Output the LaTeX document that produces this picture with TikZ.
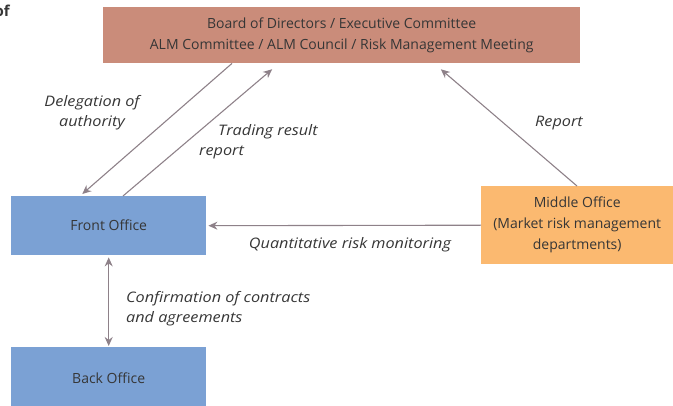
\documentclass[tikz,border=0pt]{standalone}
\usepackage{fontspec}
\setmainfont{Open Sans}
\newfontfamily\lblfont[FakeStretch=1.12]{Open Sans}
\usetikzlibrary{arrows.meta}
\definecolor{boardc}{HTML}{CA8C7A}
\definecolor{officec}{HTML}{7BA1D4}
\definecolor{middlec}{HTML}{FBB970}
\definecolor{arrowc}{HTML}{8E8189}
\definecolor{txtc}{HTML}{363636}
\tikzset{
  box/.style={inner sep=0pt, anchor=north west, text=txtc, align=center,
    font=\fontsize{14}{21}\selectfont},
  lbl/.style={inner sep=0pt, text=txtc, font=\lblfont\fontsize{14.5}{20}\selectfont\itshape},
  conn/.style={draw=arrowc, line width=1.1pt, -{Stealth[length=9pt,width=8pt]}},
}
\begin{document}
\begin{tikzpicture}[x=1pt,y=-1pt]
\useasboundingbox (0,0) rectangle (673,406);
\clip (0,0) rectangle (673,406);
\node[anchor=north east, inner sep=0pt, text=txtc, font=\fontsize{15}{18}\selectfont\bfseries] (of) at (10,5) {of};
\node[box, fill=boardc, minimum width=477pt, minimum height=56pt] (board) at (103,7)
  {Board of Directors / Executive Committee\\ALM Committee / ALM Council / Risk Management Meeting};
\node[box, fill=officec, minimum width=195pt, minimum height=59pt] (front) at (11,196) {Front Office};
\node[box, fill=officec, minimum width=195pt, minimum height=62pt] (back) at (11,347) {Back Office};
\node[box, fill=middlec, minimum width=192pt, minimum height=78pt] (middle) at (481,186)
  {Middle Office\\(Market risk management\\departments)};
% connectors
\draw[conn, shorten >=3pt] ([xshift=129pt]board.south west) -- ([xshift=69pt]front.north west);
\draw[conn, shorten >=9pt] ([xshift=112pt]front.north west) -- ([xshift=176pt]board.south west);
\draw[conn, shorten >=9pt] ([xshift=96pt]middle.north west) -- ([xshift=331pt]board.south west);
\draw[conn, shorten >=2pt] (middle.west) -- (front.east);
\draw[conn, {Stealth[length=9pt,width=8pt]}-{Stealth[length=9pt,width=8pt]}, shorten >=1pt, shorten <=2pt] (front.south) -- (back.north);
% labels
\node[lbl, align=center] (deleg) at (92,113) {Delegation of\\authority};
\node[lbl, align=left, anchor=north west] (trading) at (199,124) {\hspace*{19pt}Trading result\\report};
\node[lbl] (report) at (559,123) {Report};
\node[lbl] (quant) at (350,245) {Quantitative risk monitoring};
\node[lbl, align=left, anchor=north west] (confirm) at (126,291) {Confirmation of contracts\\and agreements};
\end{tikzpicture}
\end{document}
